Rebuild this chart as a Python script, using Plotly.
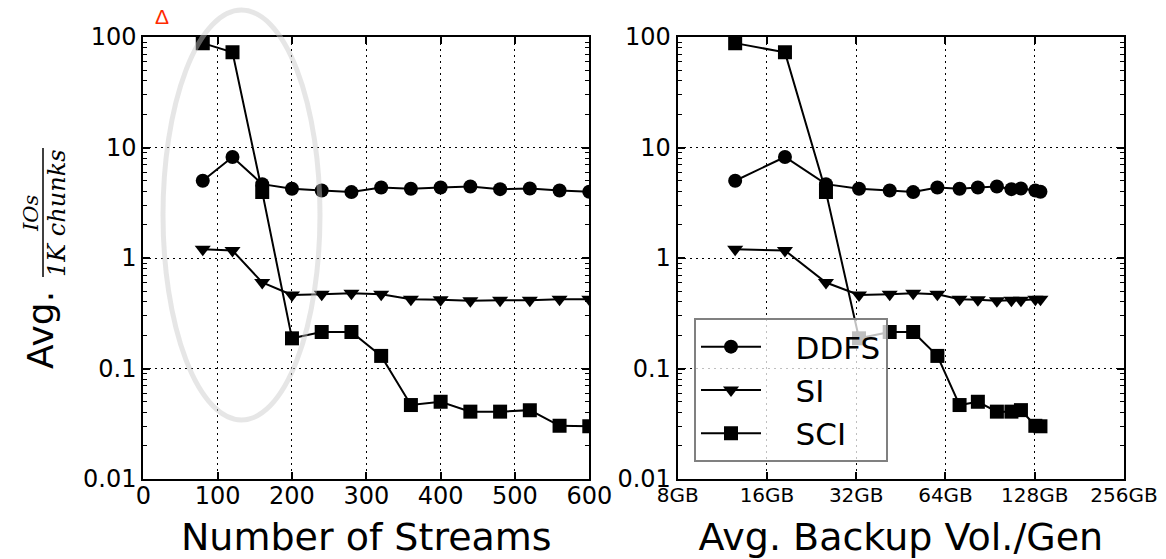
import numpy as np
import plotly.graph_objects as go

# ---------------- data ----------------
streams = [80, 120, 160, 200, 240, 280, 320, 360, 400, 440, 480, 520, 560, 600]
backup_gb = [12.5, 18.4, 25.3, 32.7, 41.5, 49.8, 60.1, 71.4, 82.3, 95.4, 106.8, 115.0, 128.6, 133.8]
ddfs = [5.0, 8.2, 4.66, 4.23, 4.08, 3.95, 4.35, 4.23, 4.35, 4.44, 4.2, 4.25, 4.08, 3.98]
si = [1.2, 1.17, 0.60, 0.463, 0.47, 0.48, 0.47, 0.424, 0.42, 0.41, 0.415, 0.415, 0.424, 0.424]
sci = [88, 72.6, 3.95, 0.1875, 0.214, 0.214, 0.13, 0.0467, 0.05, 0.0407, 0.0407, 0.042, 0.0303, 0.030]

series_names = ["DDFS", "SI", "SCI"]
y_ticks = [0.01, 0.1, 1, 10, 100]
y_ticktext = ["0.01", "0.1", "1", "10", "100"]
x1_ticks = [0, 100, 200, 300, 400, 500, 600]
x2_ticks = [8, 16, 32, 64, 128, 256]
x2_ticktext = ["8GB", "16GB", "32GB", "64GB", "128GB", "256GB"]

# ---------------- geometry ----------------
W, H = 1166, 559
ML, MR, MT, MB = 143, 42, 37, 80
PW = W - ML - MR
PH = H - MT - MB


def px(xp):
    return (xp - ML) / PW


def py(yp):
    return (H - MB - yp) / PH


FONT = "DejaVu Sans"
symbols = {"DDFS": "circle", "SI": "triangle-down", "SCI": "square"}
sizes = {"DDFS": 14, "SI": 14, "SCI": 14}
values = {"DDFS": ddfs, "SI": si, "SCI": sci}
NBSP = "\u00a0"

fig = go.Figure()
for name in series_names:
    fig.add_trace(go.Scatter(
        x=streams, y=values[name], mode="lines+markers", name=name,
        xaxis="x", yaxis="y", showlegend=False,
        line=dict(color="black", width=2),
        marker=dict(symbol=symbols[name], size=sizes[name], color="black"),
    ))
for name in series_names:
    fig.add_trace(go.Scatter(
        x=backup_gb, y=values[name], mode="lines+markers", name=NBSP * 3 + name,
        xaxis="x2", yaxis="y2", showlegend=True,
        line=dict(color="black", width=2),
        marker=dict(symbol=symbols[name], size=sizes[name], color="black"),
    ))

common_axis = dict(
    showline=True, linecolor="black", linewidth=2, mirror="allticks",
    ticks="inside", ticklen=7, tickwidth=1.5, tickcolor="black",
    showgrid=True, gridcolor="black", griddash="2px,4px", gridwidth=1,
    zeroline=False, color="black",
)

yaxis_common = dict(
    common_axis, type="log", range=[-2, 2], tickmode="array",
    tickvals=y_ticks, ticktext=y_ticktext,
    tickfont=dict(family=FONT, size=24, color="black"),
    minor=dict(ticks="inside", ticklen=4, tickwidth=1, tickcolor="black",
               dtick="D1", showgrid=False),
)

x1_start = px(143.3)
x1_end = px(589.3)
x2_start = px(677.7)
x2_end = px(1124)

fig.update_layout(
    width=W, height=H,
    margin=dict(l=ML, r=MR, t=MT, b=MB, autoexpand=False),
    paper_bgcolor="white", plot_bgcolor="white",
    font=dict(family=FONT, color="black"),
    xaxis=dict(
        common_axis, domain=[x1_start, x1_end], anchor="y", range=[0, 600],
        tickmode="array", tickvals=x1_ticks, ticklabelstandoff=-6,
        tickfont=dict(family=FONT, size=24, color="black"),
        title=dict(text="Number of Streams", font=dict(family=FONT, size=38, color="black"), standoff=22),
    ),
    yaxis=dict(yaxis_common, domain=[0, 1], anchor="x"),
    xaxis2=dict(
        common_axis, domain=[x2_start, x2_end], anchor="y2", type="log",
        range=[np.log10(8), np.log10(256)],
        tickmode="array", tickvals=x2_ticks, ticktext=x2_ticktext, ticklabelstandoff=-3,
        tickfont=dict(family=FONT, size=20, color="black"),
        title=dict(text="Avg. Backup Vol./Gen", font=dict(family=FONT, size=38, color="black"), standoff=21),
    ),
    yaxis2=dict(yaxis_common, domain=[0, 1], anchor="x2"),
    legend=dict(
        x=px(694), y=py(318), xanchor="left", yanchor="top",
        bgcolor="rgba(255,255,255,0.75)", bordercolor="#808080", borderwidth=2,
        font=dict(family=FONT, size=31, color="black"),
        itemwidth=60, tracegroupgap=0,
    ),
)

# highlight ellipse on left panel
fig.add_shape(
    type="circle", xref="x", yref="paper",
    x0=26.5, x1=237.7, y0=py(420), y1=py(10),
    line=dict(color="rgba(200,200,200,0.45)", width=5), layer="above",
)

# y-axis label: "Avg." + fraction
fig.add_annotation(
    text="Avg.", x=px(40), y=py(330), xref="paper", yref="paper",
    textangle=-90, showarrow=False, font=dict(family=FONT, size=36, color="black"),
    xanchor="center", yanchor="middle",
)
fig.add_annotation(
    text="<i>IOs</i>", x=px(31), y=py(213), xref="paper", yref="paper",
    textangle=-90, showarrow=False, font=dict(family="DejaVu Serif", size=21, color="black"),
    xanchor="center", yanchor="middle",
)
fig.add_annotation(
    text="<i>1K chunks</i>", x=px(57), y=py(213), xref="paper", yref="paper",
    textangle=-90, showarrow=False, font=dict(family="DejaVu Serif", size=24, color="black"),
    xanchor="center", yanchor="middle",
)
fig.add_shape(
    type="line", xref="paper", yref="paper",
    x0=px(43), x1=px(43), y0=py(148), y1=py(277),
    line=dict(color="black", width=1.5),
)
# small red mark at top-left
fig.add_annotation(
    text="Δ", x=px(162), y=py(17), xref="paper", yref="paper",
    showarrow=False, font=dict(family="Liberation Sans", size=21, color="#ff2a00"),
    xanchor="center", yanchor="middle",
)

fig.write_html("out.html")
